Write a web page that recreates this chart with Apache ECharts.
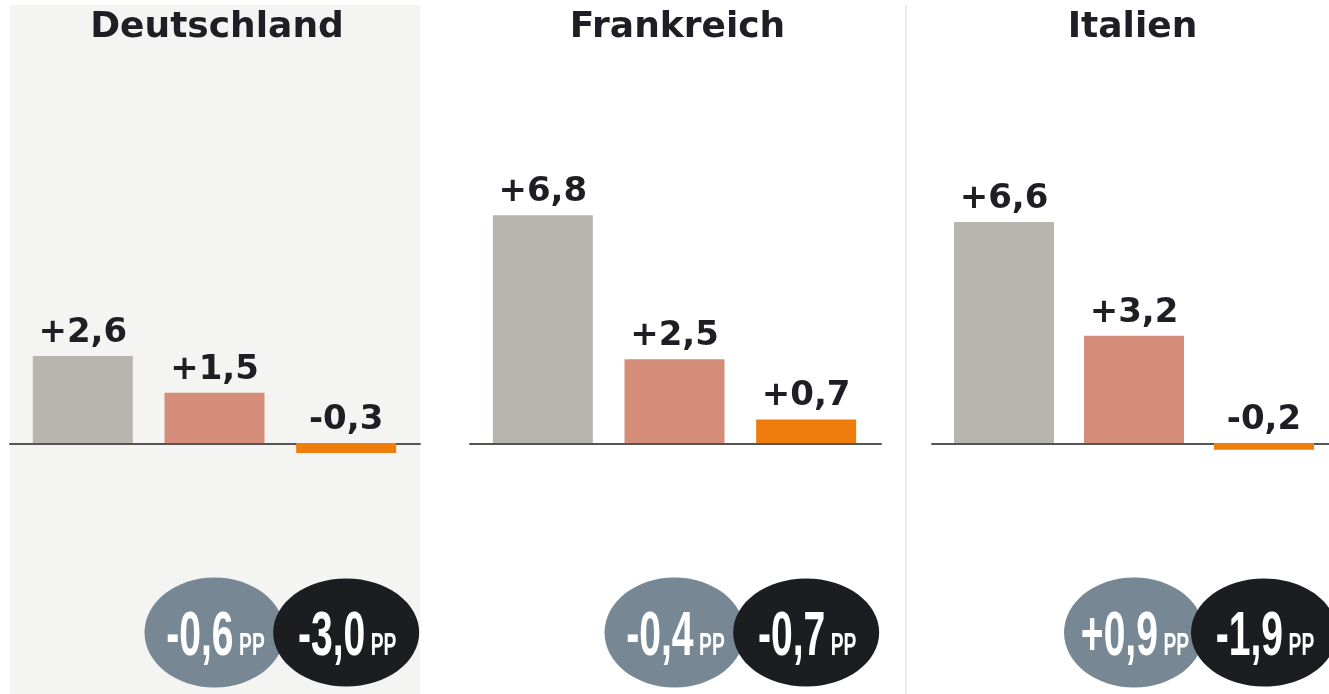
<!DOCTYPE html>
<html>
<head>
<meta charset="utf-8">
<script src="https://cdn.jsdelivr.net/npm/echarts@6/dist/echarts.min.js"></script>
<style>
  html, body { margin: 0; padding: 0; background: #fff; }
  #main { width: 1329px; height: 694px; }
</style>
</head>
<body>
<div id="main"></div>
<script>
// Veränderung je Land, drei Zeiträume
const countries = ['Deutschland', 'Frankreich', 'Italien'];
const periods = ['Zeitraum 1', 'Zeitraum 2', 'Zeitraum 3'];
const deValues = [2.6, 1.5, -0.3];
const frValues = [6.8, 2.5, 0.7];
const itValues = [6.6, 3.2, -0.2];
// Differenzen in Prozentpunkten (Kreise)
const greyDiff = [-0.6, -0.4, 0.9];
const darkDiff = [-3.0, -0.7, -1.9];

const values = [deValues, frValues, itValues];
const barColors = ['#b8b4ae', '#d48d78', '#ee7d0b'];
const panelLeft = [10, 470, 932];
const panelRight = [420, 881, 1329];
const CIRCLE_Y = -5.66; // vertikale Lage der Kreise auf der Werteachse

const chart = echarts.init(document.getElementById('main'));

function fmt(v) {
  return (v > 0 ? '+' : v < 0 ? '-' : '') + Math.abs(v).toFixed(1).replace('.', ',');
}

// Kreis mit schmal gestauchter Schrift
function circleRenderer(color, rx, ry) {
  return function (params, api) {
    let c = api.coord([api.value(0), api.value(1)]);
    return {
      type: 'group',
      children: [
        { type: 'ellipse', shape: { cx: c[0], cy: c[1], rx: rx, ry: ry }, style: { fill: color } },
        {
          type: 'text', x: c[0] + 1, y: c[1] + 5, scaleX: 0.62,
          style: {
            text: '{a|' + fmt(api.value(2)) + '}{b|PP}',
            align: 'center', verticalAlign: 'middle',
            rich: {
              a: { fontFamily: 'Liberation Sans', fontWeight: 'bold', fontSize: 63, fill: '#fff', verticalAlign: 'bottom' },
              b: { fontFamily: 'Liberation Sans', fontWeight: 'bold', fontSize: 31, fill: '#fff', verticalAlign: 'bottom', padding: [0, 0, 7, 9] }
            }
          }
        }
      ]
    };
  };
}

let grid = [], xAxis = [], yAxis = [], series = [], title = [];

countries.forEach(function (name, i) {
  let pl = panelLeft[i];
  // grid fuer die Balken
  grid.push({ left: pl + 7, width: 395, top: 175, height: 502.5 });
  xAxis.push({
    type: 'category', gridIndex: i, data: periods,
    axisLine: { show: false }, axisTick: { show: false }, axisLabel: { show: false }
  });
  yAxis.push({
    type: 'value', gridIndex: i, min: -7, max: 8,
    splitLine: { show: false }, axisLabel: { show: false },
    axisLine: { show: false }, axisTick: { show: false }
  });
  title.push({
    text: name, left: pl + (panelRight[i] - pl) / 2 - 3, top: 5, textAlign: 'center',
    textStyle: { fontFamily: 'DejaVu Sans', fontWeight: 'bold', fontSize: 36, color: '#1e1e24' }
  });

  series.push({
    type: 'bar', xAxisIndex: i, yAxisIndex: i,
    data: values[i], barWidth: 100,
    itemStyle: { color: function (p) { return barColors[p.dataIndex]; } },
    label: {
      show: true, position: 'top', distance: 6,
      fontFamily: 'DejaVu Sans', fontWeight: 'bold', fontSize: 34, color: '#1e1e24',
      formatter: function (p) { return fmt(p.value); }
    },
    silent: true
  });

  series.push({
    type: 'custom', xAxisIndex: i, yAxisIndex: i, clip: false, silent: true,
    renderItem: circleRenderer('#778894', 70, 55),
    data: [[periods[1], CIRCLE_Y, greyDiff[i]]]
  });
  series.push({
    type: 'custom', xAxisIndex: i, yAxisIndex: i, clip: false, silent: true,
    renderItem: circleRenderer('#1c1d21', 73, 54),
    data: [[periods[2], CIRCLE_Y, darkDiff[i]]]
  });
});

// Nulllinien ueber die volle Panelbreite
countries.forEach(function (name, i) {
  let g = grid.length;
  grid.push({ left: panelLeft[i], width: panelRight[i] - panelLeft[i], top: 400, bottom: 694 - 444 });
  xAxis.push({
    type: 'value', gridIndex: g, min: 0, max: 1,
    axisLine: { show: true, onZero: false, lineStyle: { color: '#555', width: 2 } },
    axisTick: { show: false }, axisLabel: { show: false }, splitLine: { show: false }
  });
  yAxis.push({ type: 'value', gridIndex: g, min: 0, max: 1, show: false });
});

const option = {
  animation: false,
  backgroundColor: '#fff',
  graphic: [
    { type: 'rect', shape: { x: 10, y: 5, width: 410, height: 689 }, style: { fill: '#f4f4f2' }, z: -10 },
    { type: 'line', shape: { x1: 906, y1: 5, x2: 906, y2: 694 }, style: { stroke: '#ececec', lineWidth: 2 }, z: -10 }
  ],
  title: title,
  grid: grid,
  xAxis: xAxis,
  yAxis: yAxis,
  series: series
};

chart.setOption(option);
</script>
</body>
</html>
